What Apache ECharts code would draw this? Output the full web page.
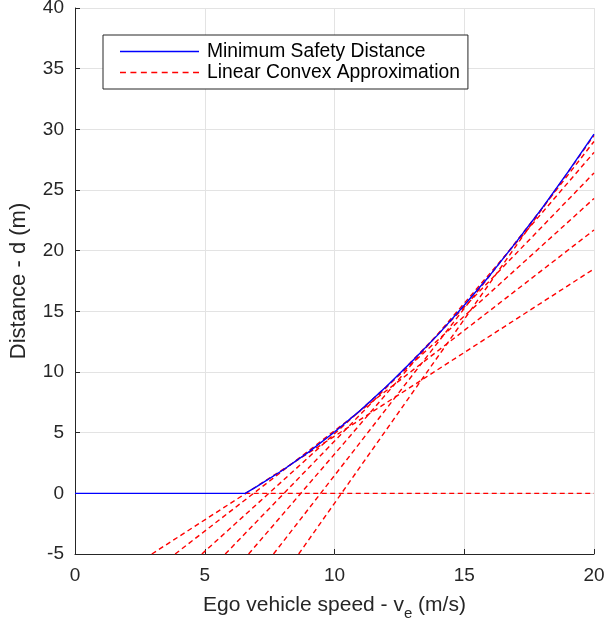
<!DOCTYPE html>
<html>
<head>
<meta charset="utf-8">
<script src="https://cdn.jsdelivr.net/npm/echarts@6/dist/echarts.min.js"></script>
<style>
  html, body { margin: 0; padding: 0; background: #fff; }
  #main { width: 609px; height: 621px; }
</style>
</head>
<body>
<div id="main"></div>
<script>
// minimum safety distance curve
var speed = [0, 6.56, 7, 8, 9, 10, 11, 12, 13, 14, 15, 16, 17, 18, 19, 20];
var safeDist = [0, 0, 0.55, 1.9, 3.4, 5.05, 6.85, 8.8, 10.9, 13.1, 15.5, 18.0, 20.7, 23.5, 26.5, 29.6];

// linear approximations: where each line leaves the bottom (d = -5) and where it ends at v = 20
var lineStartV = [2.96, 3.86, 4.89, 5.79, 6.69, 7.65, 8.62];
var lineEndD = [18.5, 21.7, 24.3, 26.4, 28.1, 29.0, 29.5];
// the flat part of the approximation
var flatV = [6.56, 20];
var flatD = [0, 0];

var xTicks = [0, 5, 10, 15, 20];
var yTicks = [-5, 0, 5, 10, 15, 20, 25, 30, 35, 40];

var chart = echarts.init(document.getElementById('main'));
var txt = '#262626';
var font = 'Liberation Sans';

var redStyle = { color: '#ff0000', width: 1.4, type: [5, 3.5] };

// legend icons drawn as thin bars, dashed one built from short pieces
var solidIcon = 'path://M0,0h80v1.5h-80z';
var dashIcon = 'path://';
for (var k = 0; k < 8; k++) {
  dashIcon += 'M' + (k * 10.5) + ',0h6v1.5h-6z';
}

var series = [{
  name: 'Minimum Safety Distance',
  type: 'line',
  symbol: 'none',
  data: speed.map(function (v, i) { return [v, safeDist[i]]; }),
  lineStyle: { color: '#0000ff', width: 1.4 },
  itemStyle: { color: '#0000ff' },
  z: 5
}];

series.push({
  name: 'Linear Convex Approximation',
  type: 'line',
  symbol: 'none',
  data: flatV.map(function (v, i) { return [v, flatD[i]]; }),
  lineStyle: redStyle,
  itemStyle: { color: '#ff0000' }
});

lineStartV.forEach(function (v, i) {
  series.push({
    name: 'Linear Convex Approximation',
    type: 'line',
    symbol: 'none',
    data: [[v, -5], [20, lineEndD[i]]],
    lineStyle: redStyle,
    itemStyle: { color: '#ff0000' }
  });
});

var option = {
  animation: false,
  backgroundColor: '#fff',
  textStyle: { fontFamily: font },
  grid: { left: 75, right: 15, top: 8, bottom: 67, outerBoundsMode: 'none', containLabel: false },
  legend: {
    data: [
      { name: 'Minimum Safety Distance', icon: solidIcon },
      { name: 'Linear Convex Approximation', icon: dashIcon }
    ],
    orient: 'vertical',
    left: 103,
    top: 35,
    itemWidth: 79,
    itemHeight: 1.5,
    itemGap: 0,
    padding: [6, 8, 6, 17],
    borderColor: '#262626',
    borderWidth: 1,
    backgroundColor: '#fff',
    textStyle: { fontSize: 19.3, color: '#000', fontFamily: font, lineHeight: 21, padding: [0, 0, 0, 3] }
  },
  xAxis: {
    type: 'value',
    min: 0, max: 20, interval: 5,
    name: 'Ego vehicle speed - v{sub|e} (m/s)',
    nameLocation: 'middle',
    nameGap: 36,
    nameTextStyle: {
      fontSize: 21, color: txt, fontFamily: font,
      rich: { sub: { fontSize: 15, color: txt, fontFamily: font, padding: [16, 0, 0, 0] } }
    },
    axisLine: { show: true, onZero: false, lineStyle: { color: txt, width: 1 } },
    axisTick: { show: true, inside: true, length: 5, lineStyle: { color: txt } },
    axisLabel: { fontSize: 19, color: txt, margin: 12,
      formatter: function (v) { return xTicks.indexOf(v) >= 0 ? String(v) : ''; } },
    splitLine: { show: true, lineStyle: { color: '#e3e3e3', width: 1 } }
  },
  yAxis: {
    type: 'value',
    min: -5, max: 40, interval: 5,
    name: 'Distance - d (m)',
    nameLocation: 'middle',
    nameGap: 45,
    nameTextStyle: { fontSize: 22, color: txt, fontFamily: font },
    axisLine: { show: true, onZero: false, lineStyle: { color: txt, width: 1 } },
    axisTick: { show: true, inside: true, length: 5, lineStyle: { color: txt } },
    axisLabel: { fontSize: 19, color: txt, margin: 11,
      formatter: function (v) { return yTicks.indexOf(v) >= 0 ? String(v) : ''; } },
    splitLine: { show: true, lineStyle: { color: '#e3e3e3', width: 1 } }
  },
  series: series
};

option && chart.setOption(option);
</script>
</body>
</html>
